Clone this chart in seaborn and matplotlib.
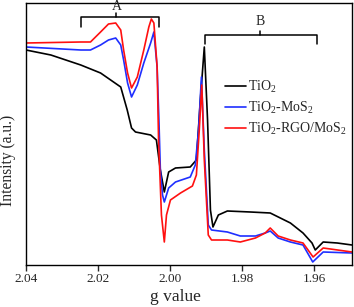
import matplotlib
matplotlib.use("Agg")
import matplotlib.pyplot as plt
import seaborn as sns
import pandas as pd

# ---- data (g value, intensity in arbitrary units) ----
g_tio2 = [2.0400, 2.0331, 2.0248, 2.0193, 2.0137, 2.0119, 2.0107, 2.0096, 2.0054, 2.0038,
          2.0027, 2.0016, 2.0004, 1.9985, 1.9944, 1.9927, 1.9916, 1.9905, 1.9896, 1.9888,
          1.9881, 1.9866, 1.9841, 1.9777, 1.9722, 1.9666, 1.9631, 1.9606, 1.9597, 1.9575,
          1.9536, 1.9495]
i_tio2 = [250, 245, 235, 227, 213, 190, 172, 168, 165, 160,
          130, 108, 128, 132, 133, 140, 200, 253, 180, 90,
          73, 85, 89, 88, 87, 77, 67, 57, 50, 58,
          57, 55]

g_mos2 = [2.0400, 2.0248, 2.0221, 2.0193, 2.0171, 2.0151, 2.0137, 2.0129, 2.0118, 2.0107,
          2.0091, 2.0073, 2.0054, 2.0045, 2.0036, 2.0031, 2.0027, 2.0021, 2.0016, 2.0004,
          1.9985, 1.9944, 1.9930, 1.9921, 1.9913, 1.9905, 1.9894, 1.9885, 1.9841, 1.9805,
          1.9763, 1.9736, 1.9722, 1.9700, 1.9666, 1.9631, 1.9604, 1.9575, 1.9495]
i_mos2 = [253, 250, 250, 255, 260, 262, 255, 240, 217, 203,
          215, 237, 257, 268, 233, 180, 130, 105, 98, 112,
          118, 123, 135, 170, 223, 150, 75, 70, 68, 64,
          64, 67, 69, 62, 58, 55, 38, 48, 47]

g_rgo = [2.0400, 2.0248, 2.0221, 2.0193, 2.0171, 2.0151, 2.0137, 2.0129, 2.0118, 2.0107,
         2.0091, 2.0073, 2.0059, 2.0052, 2.0045, 2.0036, 2.0032, 2.0024, 2.0016, 2.0010,
         1.9999, 1.9971, 1.9938, 1.9927, 1.9919, 1.9912, 1.9905, 1.9894, 1.9885, 1.9841,
         1.9805, 1.9763, 1.9736, 1.9722, 1.9700, 1.9666, 1.9631, 1.9603, 1.9575, 1.9495]
i_rgo = [257, 258, 258, 268, 276, 277, 270, 250, 227, 212,
         223, 250, 273, 281, 277, 233, 160, 85, 58, 85,
         100, 107, 114, 125, 170, 215, 140, 65, 60, 60,
         58, 62, 67, 72, 64, 60, 57, 43, 52, 48]

labels = ["TiO$\\mathregular{_2}$", "TiO$\\mathregular{_2}$-MoS$\\mathregular{_2}$",
          "TiO$\\mathregular{_2}$-RGO/MoS$\\mathregular{_2}$"]
colors = ["#000000", "#1f2fff", "#ff1010"]

xticks = [2.04, 2.02, 2.00, 1.98, 1.96]
xticklabels = ["2.04", "2.02", "2.00", "1.98", "1.96"]

df = pd.concat([
    pd.DataFrame({"g": g_tio2, "I": i_tio2, "sample": labels[0]}),
    pd.DataFrame({"g": g_mos2, "I": i_mos2, "sample": labels[1]}),
    pd.DataFrame({"g": g_rgo, "I": i_rgo, "sample": labels[2]}),
], ignore_index=True)

sns.set_style("ticks")
plt.rcParams["font.family"] = ["Liberation Serif", "DejaVu Serif"]
plt.rcParams["mathtext.fontset"] = "custom"
plt.rcParams["mathtext.rm"] = "Liberation Serif"

fig = plt.figure(figsize=(3.54, 3.07), dpi=100)
ax = fig.add_axes([26 / 354, 42 / 307, 326 / 354, 262 / 307])

sns.lineplot(data=df, x="g", y="I", hue="sample", palette=colors, sort=False,
             estimator=None, linewidth=1.2, ax=ax)

ax.set_xlim(2.04, 1.9495)
ax.set_ylim(35, 297)
ax.set_xticks(xticks)
ax.set_xticklabels(xticklabels, fontsize=9.5)
ax.set_yticks([])
ax.tick_params(axis="x", direction="out", length=4, width=1, pad=2)
for s in ax.spines.values():
    s.set_linewidth(1.0)
    s.set_color("black")

ax.set_xlabel("g value", fontsize=12.5)
ax.set_ylabel("Intensity (a.u.)", fontsize=11.2)
ax.xaxis.set_label_coords(0.457, -0.092)
ax.yaxis.set_label_coords(-0.03, 0.40)

# brackets A and B
def bracket(x0, x1, xc, y, ydown, yup, text, ytext):
    ax.plot([x0, x0, x1, x1], [ydown, y, y, ydown], color="black", lw=1.1)
    ax.plot([xc, xc], [y, yup], color="black", lw=1.1)
    ax.text(xc, ytext, text, ha="center", va="center", fontsize=10)

bracket(2.0246, 2.0031, 2.0149, 282.7, 273.3, 287.3, "A", 293.0)
bracket(1.9904, 1.9591, 1.9750, 265.0, 255.7, 269.3, "B", 278.7)

ax.legend(loc="upper left", bbox_to_anchor=(0.61, 0.71), frameon=False, fontsize=10,
          handlelength=1.5, handletextpad=0.2, labelspacing=0.35, borderpad=0,
          borderaxespad=0, title=None)

fig.savefig("out.png", dpi=100)
